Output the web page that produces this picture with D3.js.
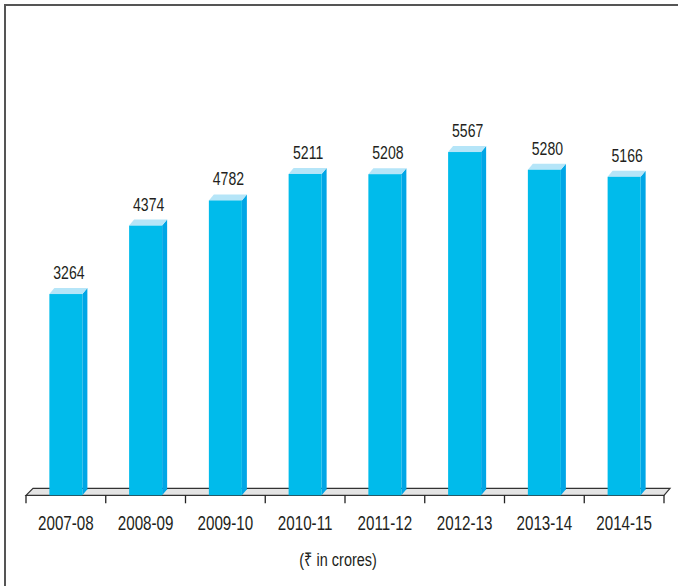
<!DOCTYPE html>
<html>
<head>
<meta charset="utf-8">
<script src="https://cdn.jsdelivr.net/npm/d3@7"></script>
<style>
  body { margin: 0; background: #fff; }
  svg { display: block; }
</style>
</head>
<body>
<div id="chart"></div>
<script>
const years = ["2007-08", "2008-09", "2009-10", "2010-11", "2011-12", "2012-13", "2013-14", "2014-15"];
const amounts = [3264, 4374, 4782, 5211, 5208, 5567, 5280, 5166];
const unitLabel = "(\u20B9 in crores)";

const width = 678;
const height = 586;
const baseY = 495.3;
const depthX = 5;
const depthY = 6;
const font = "'Liberation Sans', Arial, sans-serif";

const data = years.map((y, i) => ({ year: y, value: amounts[i] }));

const svg = d3.select("#chart").append("svg")
    .attr("width", width)
    .attr("height", height);

// frame (top and left edges only)
svg.append("path")
    .attr("d", `M5,${height} L5,5 L${width},5`)
    .attr("fill", "none")
    .attr("stroke", "#555")
    .attr("stroke-width", 2);

const x = d3.scaleBand()
    .domain(years)
    .range([26, 664])
    .paddingInner(0.586)
    .paddingOuter(0.293);

const y = d3.scaleLinear()
    .domain([0, 6000])
    .range([baseY, baseY - 6000 * 0.06166]);

const step = x.step();
const left = x.range()[0];
const right = x.range()[1];

// floor
svg.append("path")
    .attr("d", `M${left},${baseY} L${left + depthX + 2},${baseY - 7} L${right + depthX + 1},${baseY - 7} L${right},${baseY} Z`)
    .attr("fill", "#e4e4e4")
    .attr("stroke", "#333")
    .attr("stroke-width", 1.2);

// tick marks at band boundaries
const bounds = d3.range(years.length + 1).map(i => left + i * step);
svg.append("g")
    .selectAll("line")
    .data(bounds)
    .join("line")
    .attr("x1", d => d)
    .attr("x2", d => d)
    .attr("y1", baseY)
    .attr("y2", baseY + 8)
    .attr("stroke", "#222")
    .attr("stroke-width", 1.3);

// category labels
svg.append("g")
    .attr("transform", `translate(0,${baseY})`)
    .call(d3.axisBottom(x).tickSize(0).tickPadding(0))
    .call(g => g.select(".domain").remove())
    .call(g => g.selectAll(".tick text")
        .attr("y", 35)
        .attr("dy", 0)
        .attr("transform", "scale(0.76,1)")
        .attr("fill", "#231f20")
        .attr("font-size", 20)
        .attr("font-family", font));

const bars = svg.append("g")
    .selectAll("g")
    .data(data)
    .join("g");

const bw = x.bandwidth();

// side face
bars.append("path")
    .attr("d", d => {
        const x1 = x(d.year) + bw, t = y(d.value);
        return `M${x1},${t} L${x1 + depthX},${t - depthY} L${x1 + depthX},${baseY - depthY} L${x1},${baseY} Z`;
    })
    .attr("fill", "#00a6e6");

// top face
bars.append("path")
    .attr("d", d => {
        const x0 = x(d.year), x1 = x0 + bw, t = y(d.value);
        return `M${x0},${t} L${x0 + depthX},${t - depthY} L${x1 + depthX},${t - depthY} L${x1},${t} Z`;
    })
    .attr("fill", "#b5e5f8");

// front face
bars.append("rect")
    .attr("x", d => x(d.year))
    .attr("y", d => y(d.value))
    .attr("width", bw)
    .attr("height", d => baseY - y(d.value))
    .attr("fill", "#00bbeb");

// value labels
bars.append("text")
    .attr("transform", d => `translate(${x(d.year) + bw / 2 + 3},${y(d.value) - depthY - 9}) scale(0.74,1)`)
    .attr("text-anchor", "middle")
    .attr("font-size", 19)
    .attr("font-family", font)
    .attr("fill", "#231f20")
    .text(d => d.value);

svg.append("text")
    .attr("transform", "translate(338,566) scale(0.76,1)")
    .attr("text-anchor", "middle")
    .attr("font-size", 19)
    .attr("font-family", font)
    .attr("fill", "#231f20")
    .text(unitLabel);
</script>
</body>
</html>
